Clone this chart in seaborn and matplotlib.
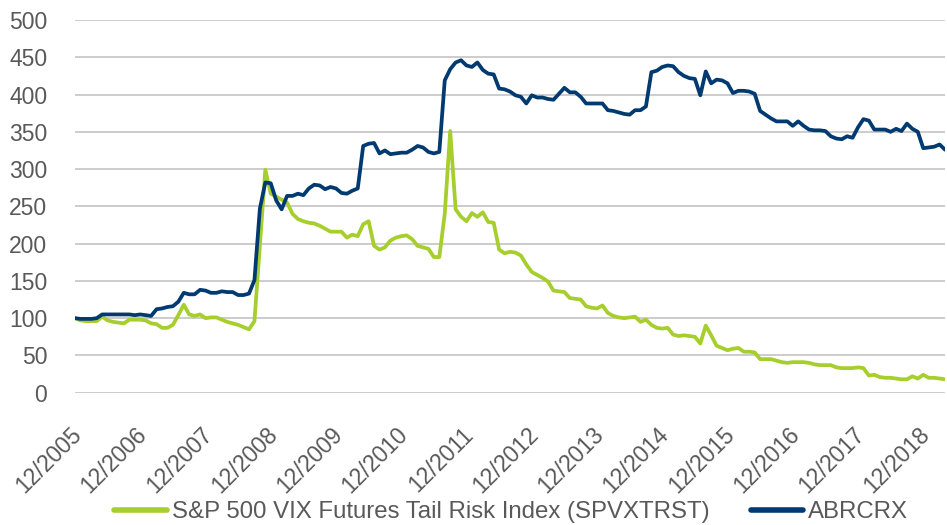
import numpy as np
import pandas as pd
import matplotlib
matplotlib.use("Agg")
import matplotlib.pyplot as plt
import matplotlib.transforms as mtransforms
import seaborn as sns

# monthly index values, 12/2005 .. 4/2019 (161 months)
spvxtrst = [
    100, 97, 96, 96, 96, 102, 97, 95, 94, 93, 98, 98,
    98, 97, 93, 92, 87, 87, 91, 104, 118, 105, 103, 105,
    100, 101, 101, 98, 95, 93, 91, 88, 85, 96, 198, 299,
    267, 263, 259, 255, 240, 233, 230, 228, 227, 224, 220, 216,
    216, 216, 208, 212, 210, 226, 230, 197, 192, 195, 204, 208,
    210, 211, 206, 197, 195, 193, 182, 182, 240, 351, 246, 236,
    230, 241, 236, 242, 229, 228, 192, 187, 189, 188, 184, 172,
    162, 158, 154, 149, 137, 136, 135, 127, 126, 125, 116, 114,
    113, 117, 107, 103, 101, 100, 101, 102, 95, 98, 91, 87,
    86, 87, 78, 76, 77, 76, 75, 66, 90, 77, 63, 60,
    57, 59, 60, 55, 55, 54, 45, 45, 45, 43, 41, 40,
    41, 41, 41, 40, 38, 37, 37, 37, 34, 33, 33, 33,
    34, 33, 23, 24, 21, 20, 20, 19, 18, 18, 22, 19,
    24, 20, 20, 19, 18,
]
abrcrx = [
    100, 99, 99, 99, 100, 105, 105, 105, 105, 105, 105, 104,
    105, 104, 103, 112, 113, 115, 116, 122, 134, 132, 132, 138,
    137, 134, 134, 136, 135, 135, 131, 131, 133, 151, 247, 282,
    281, 258, 246, 264, 264, 267, 265, 274, 279, 278, 273, 276,
    274, 268, 267, 271, 274, 331, 334, 335, 321, 325, 320, 321,
    322, 322, 326, 331, 329, 323, 321, 323, 419, 434, 443, 446,
    439, 437, 443, 433, 428, 427, 408, 407, 404, 399, 397, 388,
    399, 396, 396, 394, 393, 401, 409, 403, 403, 397, 388, 388,
    388, 388, 379, 378, 376, 374, 373, 379, 379, 384, 430, 432,
    437, 439, 438, 430, 425, 422, 421, 399, 431, 415, 420, 419,
    415, 402, 405, 405, 404, 401, 378, 373, 368, 364, 364, 364,
    358, 364, 358, 353, 352, 352, 351, 344, 341, 340, 344, 342,
    356, 367, 365, 353, 353, 353, 350, 354, 351, 361, 354, 350,
    328, 329, 330, 333, 326,
]
tick_labels = [f"12/{y}" for y in range(2005, 2019)]
series_names = ["S&P 500 VIX Futures Tail Risk Index (SPVXTRST)", "ABRCRX"]
colors = ["#A6CE2C", "#003A70"]

months = np.arange(len(abrcrx))
df = pd.DataFrame({
    "month": np.concatenate([months, months]),
    "value": spvxtrst + abrcrx,
    "series": [series_names[0]] * len(spvxtrst) + [series_names[1]] * len(abrcrx),
})

sns.set_theme(style="white")
plt.rcParams["font.family"] = ["Liberation Sans", "DejaVu Sans"]
text_color = "#595959"

fig = plt.figure(figsize=(9.47, 5.25), dpi=100)
ax = fig.add_axes([75 / 947, 1 - 392.7 / 525, 870 / 947, 372.7 / 525])

sns.lineplot(data=df, x="month", y="value", hue="series", hue_order=series_names,
             palette=colors, linewidth=2.7, ax=ax, legend=False)

ax.set_xlim(0, len(abrcrx) - 1)
ax.set_ylim(0, 500)
ax.set_yticks(np.arange(0, 501, 50))
ax.yaxis.grid(True, color="#C8C8C8", linewidth=1.3)
ax.set_axisbelow(True)
for s in ax.spines.values():
    s.set_visible(False)

ax.set_xticks(np.arange(0, len(tick_labels) * 12, 12))
ax.set_xticklabels(tick_labels, rotation=45, ha="right", va="top",
                   rotation_mode="anchor")
ax.tick_params(axis="both", length=0, labelsize=16.5, labelcolor=text_color)
ax.tick_params(axis="y", pad=20)
ax.tick_params(axis="x", pad=22)
# nudge rotated date labels a little to the left
shift = mtransforms.ScaledTranslation(-5 / 100, 0, fig.dpi_scale_trans)
for lbl in ax.get_xticklabels():
    lbl.set_transform(lbl.get_transform() + shift)
ax.set_xlabel("")
ax.set_ylabel("")

handles = [plt.Line2D([], [], color=c, linewidth=4) for c in colors]
fig.legend(handles, series_names, loc="center", bbox_to_anchor=(0.54, 0.024),
           ncol=2, frameon=False, fontsize=17.3, handlelength=2.2,
           handletextpad=0.2, columnspacing=1.7, labelcolor=text_color)

fig.savefig("out.png", dpi=100)
